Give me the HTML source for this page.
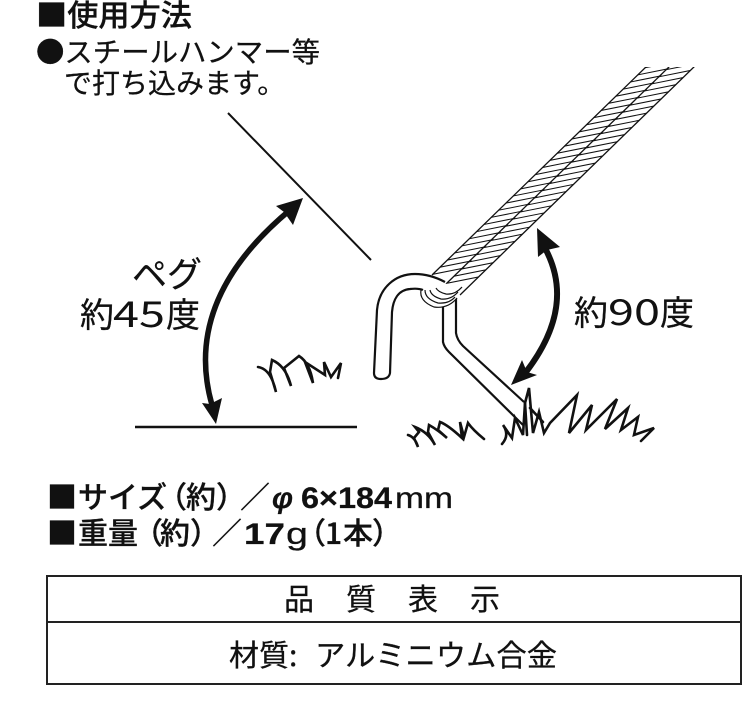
<!DOCTYPE html>
<html><head><meta charset="utf-8"><style>
html,body{margin:0;padding:0;background:#fff}
svg{display:block}
text{font-family:"Noto Sans CJK JP",sans-serif;fill:#111;stroke:#111;stroke-width:.25;text-spacing-trim:space-all}
.l{font-family:"Liberation Sans","Noto Sans CJK JP",sans-serif}
.b{font-weight:500;stroke-width:.3}
.n{stroke-width:0}
</style></head><body>
<svg width="746" height="703" viewBox="0 0 746 703" xmlns="http://www.w3.org/2000/svg">
<defs><clipPath id="c"><rect x="400" y="67" width="320" height="260"/></clipPath></defs>
<text x="36" y="26" font-size="30" class="b" textLength="156" lengthAdjust="spacingAndGlyphs">■使用方法</text>
<text x="36" y="62" font-size="28" textLength="284" lengthAdjust="spacingAndGlyphs">●スチールハンマー等</text>
<text x="64" y="93" font-size="28">で打ち込みます。</text>
<text x="132" y="287" font-size="35">ペグ</text>
<text x="80" y="327" font-size="34">約</text>
<text x="113" y="327" font-size="36" class="n" textLength="52" lengthAdjust="spacingAndGlyphs">45</text>
<text x="166" y="327" font-size="34">度</text>
<text x="574" y="325" font-size="34">約</text>
<text x="608" y="325" font-size="36" class="n" textLength="52" lengthAdjust="spacingAndGlyphs">90</text>
<text x="660" y="325" font-size="34">度</text>

<g font-size="30">
<text x="47" y="508" class="b">■</text>
<text x="78" y="508" class="b">サイズ</text>
<text x="157" y="508" class="b">（</text>
<text x="186" y="508" class="b">約</text>
<text x="216" y="508" class="b">）</text>
<text x="240" y="508">／</text>
<text x="272" y="508" class="l" font-style="italic" font-weight="700" textLength="21" lengthAdjust="spacingAndGlyphs">φ</text>
<text x="301" y="508" class="l" font-weight="700" textLength="91" lengthAdjust="spacingAndGlyphs">6×184</text>
<text x="395" y="508" class="l" textLength="58" lengthAdjust="spacingAndGlyphs">mm</text>
<text x="47" y="544" class="b">■</text>
<text x="78" y="544" class="b">重量</text>
<text x="133" y="544" class="b">（</text>
<text x="160" y="544" class="b">約</text>
<text x="190" y="544" class="b">）</text>
<text x="212" y="544">／</text>
<text x="244" y="544" class="l" font-weight="700" textLength="41" lengthAdjust="spacingAndGlyphs">17</text>
<text x="286" y="544" class="l" font-size="31" textLength="22" lengthAdjust="spacingAndGlyphs">g</text>
<text x="296" y="544" class="b">（</text>
<text x="325" y="544" class="b">1</text>
<text x="343" y="544" class="b">本</text>
<text x="372" y="544" class="b">）</text>
</g>
<g font-size="30">
<text x="284" y="610">品</text>
<text x="346" y="610">質</text>
<text x="408" y="610">表</text>
<text x="470" y="610">示</text>
<text x="229" y="666">材質</text>
<text x="289" y="666">:</text>
<text x="315" y="666" textLength="242" lengthAdjust="spacingAndGlyphs">アルミニウム合金</text>
</g>
<rect x="47" y="576" width="694" height="108" fill="none" stroke="#222" stroke-width="2"/>
<line x1="47" y1="622" x2="741" y2="622" stroke="#222" stroke-width="2"/>
<line x1="228" y1="113" x2="371" y2="260" stroke="#111" stroke-width="2"/>
<line x1="135" y1="427" x2="357" y2="427" stroke="#111" stroke-width="2.4"/>

<path d="M290 210Q182 300 212 405" fill="none" stroke="#111" stroke-width="5.5"/>
<polygon points="303,198 276,206 284,212 293,225" fill="#111"/>
<polygon points="216,424 202,403 210,404 222,398" fill="#111"/>
<path d="M546 250C564 285 562 325 526 372" fill="none" stroke="#111" stroke-width="6"/>
<polygon points="537,228 538,257 547,250 560,247" fill="#111"/>
<polygon points="511,385 522,360 527,372 537,375" fill="#111"/>

<!-- rope -->
<g clip-path="url(#c)">
<g fill="none" stroke="#111">
<g transform="matrix(.716 -.698 .98 -.196 432 275)">
<line x1="0" y1="16" x2="320" y2="16" stroke-width="32" stroke-dasharray="1.9 8.3"/>
</g>
<g transform="matrix(.716 -.698 .98 -.196 446 284)">
<line x1="0" y1="16" x2="320" y2="16" stroke-width="32" stroke-dasharray="1.9 8.3"/>
</g>
<g stroke-width="1.3">
<line x1="432" y1="275" x2="649" y2="64"/>
<line x1="446" y1="284" x2="672" y2="64"/>
<line x1="460" y1="295" x2="697" y2="64"/>
</g>
</g>
</g>

<!-- peg -->
<path d="M443 307V342Q444 347 449 352L523 425M456 298V333Q457 340 463 346L524 402" fill="none" stroke="#111" stroke-width="2.2"/>
<path d="M423 290Q418 288 410 289C398 290 393 300 392 312L390 373Q389 379 381 379Q374 379 374 373L377 310C379 288 395 274 415 274Q430 274 445 282" fill="#fff" stroke="#111" stroke-width="2.2"/>
<path d="M421 291Q419 301 434 307Q448 309 457 298L468 283L442 284L428 290Z" fill="#fff"/>
<path d="M421 290Q419 301 434 307Q448 309 457 298M425 290Q425 299 438 303Q449 304 455 297M430 290Q431 296 441 299Q451 300 458 292M436 288Q438 292 446 294Q455 295 462 287" fill="none" stroke="#111" stroke-width="1.2"/>

<!-- grass -->
<g fill="none" stroke="#111" stroke-width="2.6" stroke-linejoin="miter" stroke-linecap="round">
<path d="M258 367Q271 369 276 392L270 372L272 360Q286 366 291 386L284 368L299 356Q310 363 313 383L305 362L325 375L324 362L331 377L341 363L338 378"/>
<path d="M408 435Q415 437 418 447L414 438L419 432L415 427Q428 432 435 445L428 432L429 425Q438 430 447 438L438 430L440 422Q448 425 462 438L460 422L464 437L468 423Q473 430 484 439"/>
<path d="M502 444Q510 435 503 425L512 438L515 418L523 435L525 403L529 388L533 433L539 412L544 433L550 423L577 395L569 433L592 405L586 430L617 399L605 429L628 408L621 430L638 417L634 435L654 428L641 441"/>
<path d="M530 408L543 422M525 403L527 435"/>
</g>
</svg>
</body></html>
